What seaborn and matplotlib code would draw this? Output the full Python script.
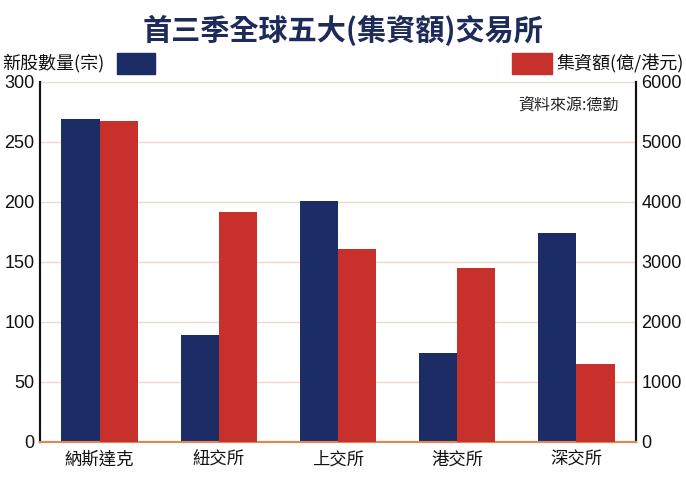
import pandas as pd
import numpy as np
import matplotlib.pyplot as plt
import seaborn as sns
from matplotlib.patches import Rectangle

# 數據
exchanges = ['納斯達克', '紐交所', '上交所', '港交所', '深交所']
ipo_count = [269, 89, 201, 74, 174]          # 新股數量(宗)
fund_raised = [5350, 3830, 3210, 2900, 1300]  # 集資額(億/港元)
left_ticks = [0, 50, 100, 150, 200, 250, 300]
right_ticks = [0, 1000, 2000, 3000, 4000, 5000, 6000]

navy = '#1c2d66'
red = '#c7302b'
grid_col = '#efd8cc'

sns.set_theme(style='white')
plt.rcParams['font.family'] = ['Liberation Sans', 'Noto Sans CJK TC', 'DejaVu Sans']

df = pd.DataFrame({'交易所': exchanges, '新股數量': ipo_count, '集資額': fund_raised})

fig = plt.figure(figsize=(6.86, 4.92), dpi=100)
ax = fig.add_axes([40 / 686, 1 - 442 / 492, 596 / 686, 360 / 492])
ax2 = ax.twinx()

sns.barplot(data=df, x='交易所', y='新股數量', color=navy, width=0.32,
            saturation=1, linewidth=0, ax=ax, zorder=3)
sns.barplot(data=df, x='交易所', y='集資額', color=red, width=0.32,
            saturation=1, linewidth=0, ax=ax2, zorder=3)

# 兩組柱並排
for p in ax.patches:
    p.set_x(p.get_x() - 0.16)
for p in ax2.patches:
    p.set_x(p.get_x() + 0.16)

ax.set_xlim(-0.5, 4.5)
ax.set_ylim(0, 300)
ax2.set_ylim(0, 6000)
ax.set_yticks(left_ticks)
ax2.set_yticks(right_ticks)
ax.set_xlabel('')
ax.set_ylabel('')
ax2.set_ylabel('')

for y in left_ticks[1:]:
    ax.axhline(y, color=grid_col, lw=1, zorder=1)

ax.tick_params(axis='y', labelsize=13, length=0, pad=4, colors='#111111')
ax2.tick_params(axis='y', labelsize=13, length=0, pad=4, colors='#111111')
ax.tick_params(axis='x', length=0, pad=6)
for lab in ax.get_xticklabels():
    lab.set_family(['Noto Sans CJK TC'])
    lab.set_fontsize(12.5)
    lab.set_color('#111111')

for a in (ax, ax2):
    a.spines['top'].set_visible(False)
    a.spines['left'].set_color('#111111')
    a.spines['right'].set_color('#111111')
    a.spines['left'].set_linewidth(1.5)
    a.spines['right'].set_linewidth(1.5)
    a.spines['bottom'].set_color('#d98a55')
    a.spines['bottom'].set_linewidth(1.5)

ax2.text(0.97, 0.935, '資料來源:德勤', transform=ax2.transAxes, ha='right', va='center',
         fontsize=11.5, family=['Noto Sans CJK TC'], color='#222222')

# 標題與圖例
fig.text(0.5, 1 - 30 / 492, '首三季全球五大(集資額)交易所', ha='center', va='center',
         fontsize=21, fontweight='bold', family=['Noto Sans CJK TC'], color='#1d2a5a')
fig.text(2 / 686, 1 - 63 / 492, '新股數量(宗)', ha='left', va='center',
         fontsize=13, family=['Noto Sans CJK TC'], color='#111111')
fig.text(684 / 686, 1 - 63 / 492, '集資額(億/港元)', ha='right', va='center',
         fontsize=13, family=['Noto Sans CJK TC'], color='#111111')
fig.patches.append(Rectangle((117 / 686, 1 - 74 / 492), 38 / 686, 21 / 492,
                             transform=fig.transFigure, color=navy))
fig.patches.append(Rectangle((512 / 686, 1 - 74 / 492), 40 / 686, 21 / 492,
                             transform=fig.transFigure, color=red))

fig.savefig('out.png', dpi=100)
